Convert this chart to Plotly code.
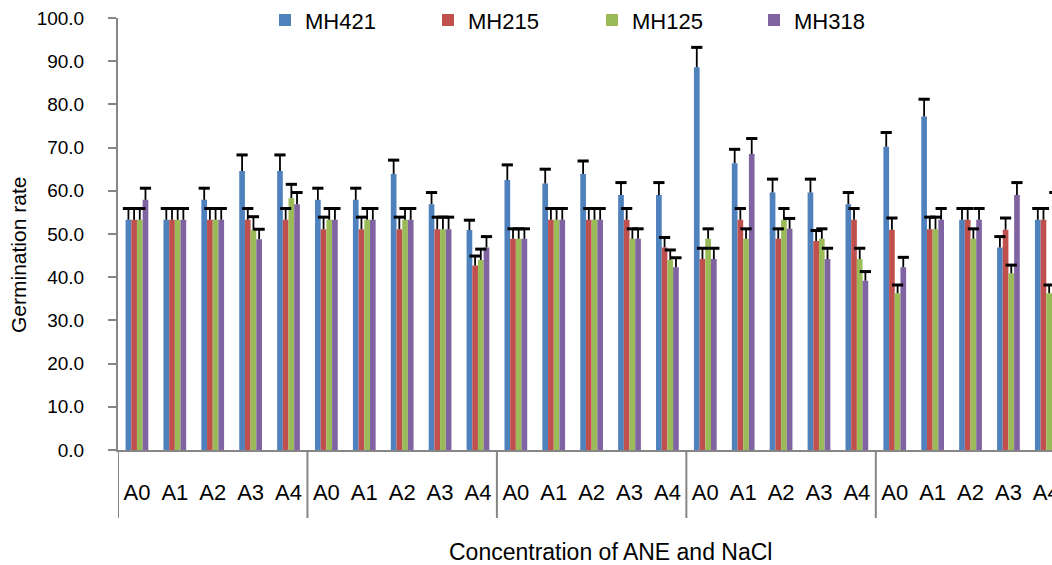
import plotly.graph_objects as go

groups = ["G1", "G2", "G3", "G4", "G5"]
levels = ["A0", "A1", "A2", "A3", "A4"]
series = ["MH421", "MH215", "MH125", "MH318"]
colors = ["#4F81BD", "#C0504D", "#9BBB59", "#8064A2"]

MH421 = [53.3, 53.3, 57.9, 64.6, 64.6, 57.9, 57.9, 63.9, 56.9, 50.9, 62.5, 61.7, 63.9, 59.0, 59.0,
         88.6, 66.4, 59.6, 59.6, 56.9, 70.2, 77.2, 53.3, 46.9, 53.3]
MH215 = [53.3, 53.3, 53.3, 53.3, 53.3, 51.1, 51.1, 51.1, 51.1, 42.7, 48.9, 53.3, 53.3, 53.3, 46.9,
         44.2, 53.3, 48.9, 48.4, 53.3, 51.0, 51.1, 53.3, 51.0, 53.3]
MH125 = [53.3, 53.3, 53.3, 50.9, 58.3, 53.3, 53.3, 53.3, 51.1, 44.0, 48.9, 53.3, 53.3, 48.9, 44.0,
         48.9, 48.9, 53.3, 48.9, 44.2, 36.3, 51.1, 48.9, 40.9, 36.3]
MH318 = [57.9, 53.3, 53.3, 48.8, 56.9, 53.3, 53.3, 53.3, 51.1, 46.9, 48.9, 53.3, 53.3, 48.9, 42.3,
         44.2, 68.5, 51.2, 44.2, 39.2, 42.3, 53.3, 53.3, 59.0, 56.9]

ERR421 = [2.6, 2.6, 2.7, 3.7, 3.7, 2.7, 2.7, 3.2, 2.7, 2.3, 3.5, 3.3, 3.0, 2.9, 2.9,
          4.6, 3.2, 3.1, 3.1, 2.7, 3.3, 4.0, 2.6, 2.5, 2.6]
ERR215 = [2.6, 2.6, 2.6, 2.6, 2.6, 2.8, 2.8, 2.8, 2.8, 2.2, 2.3, 2.6, 2.6, 2.6, 2.3,
          2.5, 2.6, 2.3, 2.4, 2.6, 2.7, 2.8, 2.6, 2.7, 2.6]
ERR125 = [2.6, 2.6, 2.6, 3.1, 3.2, 2.6, 2.6, 2.6, 2.8, 2.5, 2.3, 2.6, 2.6, 2.3, 2.3,
          2.3, 2.3, 2.6, 2.3, 2.5, 1.9, 2.8, 2.3, 1.9, 1.9]
ERR318 = [2.7, 2.6, 2.6, 2.3, 2.7, 2.6, 2.6, 2.6, 2.8, 2.5, 2.3, 2.6, 2.6, 2.3, 2.2,
          2.5, 3.6, 2.4, 2.5, 2.1, 2.3, 2.6, 2.6, 2.9, 2.7]

values = [MH421, MH215, MH125, MH318]
errors = [ERR421, ERR215, ERR125, ERR318]

n_cat = len(groups) * len(levels)
cat_idx = list(range(n_cat))
tick_text = [lv for g in groups for lv in levels]

GROUP_W = 0.6
bw = GROUP_W / len(series)
FONT = "Liberation Sans, Arial, sans-serif"
legend_ids = ["legend", "legend2", "legend3", "legend4"]
legend_left_px = [265, 428, 592, 754]

fig = go.Figure()
for s, name in enumerate(series):
    xs = [i - GROUP_W / 2 + bw * (s + 0.5) for i in cat_idx]
    fig.add_trace(go.Bar(
        x=xs, y=values[s], width=bw, name=name, legend=legend_ids[s],
        marker=dict(color=colors[s], line=dict(width=0)),
    ))
for s, name in enumerate(series):
    xs = [i - GROUP_W / 2 + bw * (s + 0.5) for i in cat_idx]
    tops = [v + e for v, e in zip(values[s], errors[s])]
    fig.add_trace(go.Scatter(
        x=xs, y=tops, mode="markers", showlegend=False, hoverinfo="skip",
        marker=dict(symbol="line-ew", size=8, line=dict(width=3, color="black")),
        error_y=dict(type="data", symmetric=False, array=[0] * n_cat,
                     arrayminus=errors[s], width=0, thickness=1.8, color="black"),
    ))

shapes = []
for g in range(len(groups)):
    xg = g * len(levels) - 0.5
    shapes.append(dict(type="line", xref="x", yref="paper", x0=xg, x1=xg,
                       y0=0, y1=-68 / 432, line=dict(color="#868686", width=2)))

legend_layout = {}
for s, lid in enumerate(legend_ids):
    legend_layout[lid] = dict(orientation="h", x=(legend_left_px[s] - 118) / 934, xanchor="left",
                              y=0.995, yanchor="middle", font=dict(size=22),
                              bgcolor="rgba(0,0,0,0)", itemclick=False)

fig.update_layout(
    width=1052, height=565,
    margin=dict(l=118, r=0, t=18, b=115, autoexpand=False),
    paper_bgcolor="white", plot_bgcolor="white",
    barmode="overlay",
    font=dict(family=FONT, color="black", size=19),
    showlegend=True,
    xaxis=dict(range=[-0.5, 24.15], tickmode="array", tickvals=cat_idx, ticktext=tick_text,
               ticks="", showline=True, linecolor="#868686", linewidth=2,
               showgrid=False, zeroline=False, tickfont=dict(size=22),
               ticklabelstandoff=22, ticklabeloverflow="allow"),
    yaxis=dict(range=[0, 100], dtick=10, tick0=0, tickformat=".1f", ticks="outside",
               ticklen=8, tickcolor="#868686", tickwidth=2, showline=True,
               linecolor="#868686", linewidth=2, showgrid=False, zeroline=False,
               tickfont=dict(size=19), ticklabelstandoff=20),
    shapes=shapes,
    annotations=[
        dict(text="Germination rate", xref="paper", yref="paper", x=(18 - 118) / 934,
             y=(450 - 255) / 432, textangle=-90, showarrow=False, font=dict(size=21),
             xanchor="center", yanchor="middle"),
        dict(text="Concentration of ANE and NaCl", xref="paper", yref="paper",
             x=(610 - 118) / 934, y=(450 - 552) / 432, showarrow=False,
             font=dict(size=23), xanchor="center", yanchor="middle"),
    ],
    **legend_layout,
)

fig.write_html("out.html")
